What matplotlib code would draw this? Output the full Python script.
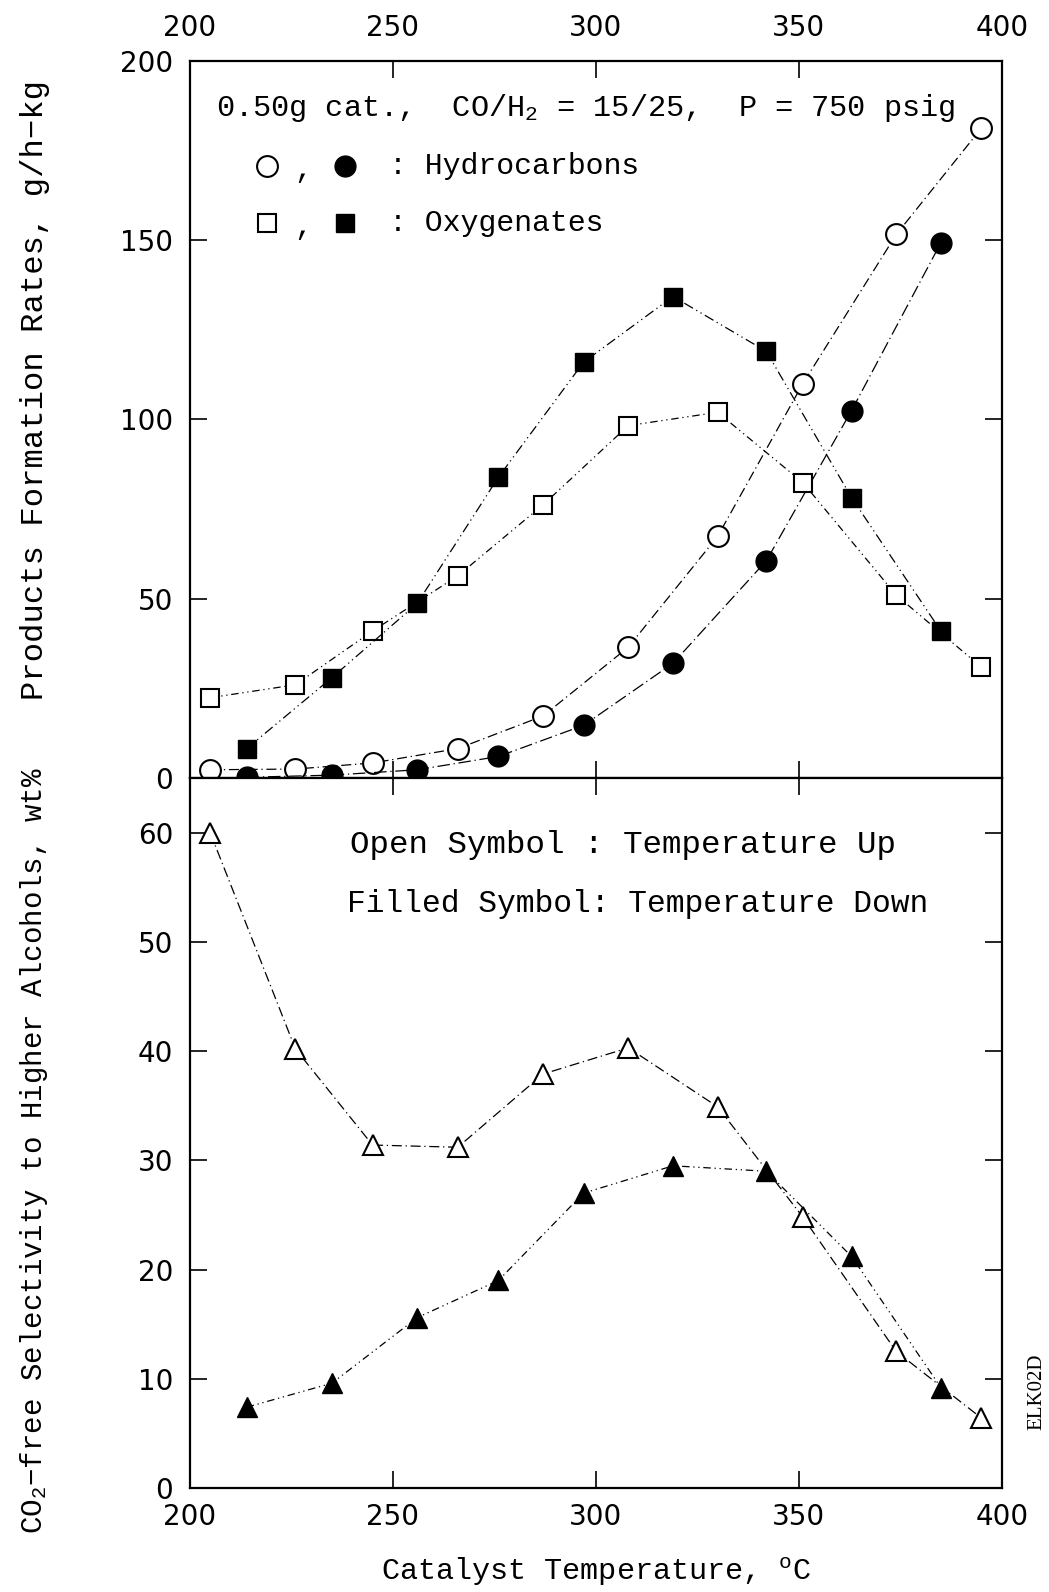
import matplotlib
matplotlib.use("Agg")
from matplotlib import pyplot as plt

# temperature up (open symbols) and down (filled symbols)
temp_up = [205, 226, 245, 266, 287, 308, 330, 351, 374, 395]
temp_down = [214, 235, 256, 276, 297, 319, 342, 363, 385]

hc_up = [2.3, 2.5, 4.2, 8.2, 17.3, 36.5, 67.4, 110, 151.6, 181.3]
hc_down = [0.2, 0.8, 2.3, 6.0, 14.7, 32.0, 60.6, 102.5, 149.3]
oxy_up = [22.4, 26.0, 41.0, 56.4, 76.2, 98.3, 102.0, 82.4, 51.0, 30.9]
oxy_down = [8.2, 28.0, 48.7, 83.9, 116.0, 134.3, 119.0, 78.2, 41.0]

sel_up = [60.0, 40.2, 31.4, 31.2, 37.9, 40.3, 34.9, 24.8, 12.5, 6.4]
sel_down = [7.4, 9.6, 15.6, 19.0, 27.0, 29.5, 29.0, 21.2, 9.2]

x_ticks = [200, 250, 300, 350, 400]

mono = ['Liberation Mono', 'DejaVu Sans Mono']
plt.rcParams['mathtext.fontset'] = 'custom'
plt.rcParams['mathtext.rm'] = 'Liberation Mono'
plt.rcParams['mathtext.it'] = 'Liberation Mono'
plt.rcParams['font.family'] = ['DejaVu Sans']

fig = plt.figure(figsize=(10.49, 15.92), dpi=100)
ax1 = fig.add_axes([0.181, 0.5113, 0.774, 0.4504])
ax2 = fig.add_axes([0.181, 0.0653, 0.774, 0.4460])

lw = 0.9
ms_c, ms_s, ms_t = 15, 13, 15

ax1.plot(temp_up, hc_up, color='k', lw=lw, ls=(0, (8, 3, 1, 3)), marker='o',
         ms=ms_c, mfc='white', mec='k', mew=1.5)
ax1.plot(temp_down, hc_down, color='k', lw=lw, ls=(0, (10, 3, 1, 3)), marker='o',
         ms=ms_c, mfc='k', mec='k')
ax1.plot(temp_up, oxy_up, color='k', lw=lw, ls=(0, (6, 3, 1, 3, 1, 3)), marker='s',
         ms=ms_s, mfc='white', mec='k', mew=1.5)
ax1.plot(temp_down, oxy_down, color='k', lw=lw, ls=(0, (8, 3, 1, 3, 1, 3)), marker='s',
         ms=ms_s, mfc='k', mec='k')

ax2.plot(temp_up, sel_up, color='k', lw=lw, ls=(0, (8, 3, 1, 3)), marker='^',
         ms=ms_t, mfc='white', mec='k', mew=1.5)
ax2.plot(temp_down, sel_down, color='k', lw=lw, ls=(0, (6, 3, 1, 3, 1, 3)), marker='^',
         ms=ms_t, mfc='k', mec='k')

for ax in (ax1, ax2):
    ax.set_xlim(200, 400)
    ax.set_xticks(x_ticks)
    ax.tick_params(direction='in', length=12, width=1.2, top=True, right=True,
                   labelsize=20)
    ax.tick_params(axis='y', pad=12)
    for sp in ax.spines.values():
        sp.set_linewidth(1.6)

ax1.set_ylim(0, 200)
ax1.set_yticks([0, 50, 100, 150, 200])
ax1.tick_params(axis='x', labelbottom=False, labeltop=True, pad=14)
ax2.set_ylim(0, 65)
ax2.set_yticks([0, 10, 20, 30, 40, 50, 60])
ax2.tick_params(axis='x', pad=11)

ax1.set_ylabel('Products Formation Rates, g/h\u2212kg', fontsize=23.2, family=mono)
ax2.set_ylabel('CO$_2$\u2212free Selectivity to Higher Alcohols, wt%', fontsize=21,
               family=mono)
ax2.set_xlabel('Catalyst Temperature, $^{o}$C', fontsize=21.7, family=mono)
ax1.yaxis.set_label_coords(-0.172, 0.541)
ax2.yaxis.set_label_coords(-0.172, 0.476)
ax2.xaxis.set_label_coords(0.5, -0.095)

fs = 21.5
ax1.text(0.0325, 0.935, '0.50g cat.,  CO/H$_2$ = 15/25,  P = 750 psig',
         transform=ax1.transAxes, fontsize=21.8, va='center', family=mono)

# legend rows
ax1.plot([0.095], [0.854], 'o', transform=ax1.transAxes, ms=ms_c, mfc='white',
         mec='k', mew=1.5)
ax1.plot([0.191], [0.854], 'o', transform=ax1.transAxes, ms=ms_c, mfc='k', mec='k')
ax1.text(0.139, 0.848, ',', transform=ax1.transAxes, fontsize=fs, va='center',
         ha='center', family=mono)
ax1.text(0.245, 0.854, ': Hydrocarbons', transform=ax1.transAxes, fontsize=fs,
         va='center', family=mono)
ax1.plot([0.095], [0.774], 's', transform=ax1.transAxes, ms=ms_s, mfc='white',
         mec='k', mew=1.5)
ax1.plot([0.191], [0.774], 's', transform=ax1.transAxes, ms=ms_s, mfc='k', mec='k')
ax1.text(0.139, 0.768, ',', transform=ax1.transAxes, fontsize=fs, va='center',
         ha='center', family=mono)
ax1.text(0.245, 0.774, ': Oxygenates', transform=ax1.transAxes, fontsize=fs,
         va='center', family=mono)

ax2.text(0.1975, 0.9056, 'Open Symbol : Temperature Up', transform=ax2.transAxes,
         fontsize=23.4, va='center', family=mono)
ax2.text(0.194, 0.8226, 'Filled Symbol: Temperature Down', transform=ax2.transAxes,
         fontsize=22.5, va='center', family=mono)

fig.text(0.988, 0.126, 'ELK02D', rotation=90, fontsize=15, family='Liberation Serif',
         va='center', ha='center')

fig.savefig('out.png', dpi=100)
